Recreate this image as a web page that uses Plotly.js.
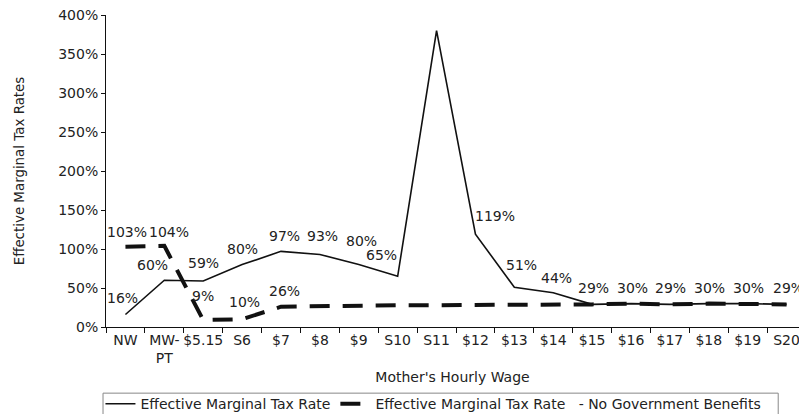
<!DOCTYPE html>
<html>
<head>
<meta charset="utf-8">
<script src="https://cdn.plot.ly/plotly-3.0.1.min.js"></script>
<style>html,body{margin:0;padding:0;background:#fff;overflow:hidden}</style>
</head>
<body>
<div id="chart" style="width:799px;height:414px"></div>
<script>
// ---- data ----
var wages = ["NW","MW-<br>PT","$5.15","S6","$7","$8","$9","S10","S11","$12","$13","$14","$15","$16","$17","$18","$19","S20"];
var emtr = [16, 60, 59, 80, 97, 93, 80, 65, 380, 119, 51, 44, 29, 30, 29, 30, 30, 29];
var emtrNoBenefits = [103, 104, 9, 10, 26, 27, 28, 28, 28, 28, 29, 29, 29, 30, 29, 30, 30, 29];
// which points carry a value label
var emtrLabeled = [true,true,true,true,true,true,true,true,false,true,true,true,true,true,true,true,true,true];
var noBenLabeled = [true,true,true,true,true,false,false,false,false,false,false,false,false,false,false,false,false,false];
var yTicks = [0, 50, 100, 150, 200, 250, 300, 350, 400];
var yTickText = yTicks.map(function(v){ return v + '%'; });
var seriesNames = ["Effective Marginal Tax Rate", "Effective Marginal Tax Rate\u00a0\u00a0\u00a0-\u00a0No Government Benefits"];

// label offsets (px), separate from data
var emtrShift = [[-3,17],[-12,15],[0,18],[0,16],[3,15],[3,18],[3,24],[-16,21],[0,0],[20,18],[7,22],[3,15],[1,16],[1,16],[1,16],[1,16],[1,16],[2,16]];
var noBenShift = [[2,15],[5,14],[0,24],[2,17],[3,16]];

var FONT = "DejaVu Sans, Arial, sans-serif";
var annotations = [];
wages.forEach(function(w, i){
  if (emtrLabeled[i]) annotations.push({x: w, y: emtr[i], xref:'x', yref:'y', text: emtr[i] + '%', showarrow:false,
    xshift: emtrShift[i][0], yshift: emtrShift[i][1], font:{family:FONT, size:14, color:'#222'}});
  if (noBenLabeled[i]) annotations.push({x: w, y: emtrNoBenefits[i], xref:'x', yref:'y', text: emtrNoBenefits[i] + '%', showarrow:false,
    xshift: noBenShift[i][0], yshift: noBenShift[i][1], font:{family:FONT, size:14, color:'#222'}});
});

var traces = [
  {x: wages, y: emtr, type:'scatter', mode:'lines', name: seriesNames[0],
   line:{color:'#111', width:1.6}},
  {x: wages, y: emtrNoBenefits, type:'scatter', mode:'lines', name: seriesNames[1],
   line:{color:'#111', width:4, dash:'20px,13px'}}
];

var layout = {
  width: 799, height: 414,
  margin: {l:106, r:0, t:15, b:87, pad:0, autoexpand:false},
  paper_bgcolor:'#fff', plot_bgcolor:'#fff',
  font: {family: FONT, size: 14, color:'#222'},
  hovermode: false,
  showlegend: true,
  legend: {orientation:'h', x:-0.008, xanchor:'left', y:-0.196, yanchor:'top',
    borderwidth:0, font:{family:FONT, size:14, color:'#222'},
    itemwidth:30, bgcolor:'rgba(0,0,0,0)'},
  shapes: [
    {type:'rect', xref:'paper', yref:'paper', x0:-0.0043, x1:0.97, y0:-0.212, y1:-0.32,
     line:{color:'#888', width:1}, fillcolor:'rgba(0,0,0,0)', layer:'above'}
  ],
  xaxis: {type:'category', range:[-0.5, 17.32], showline:true, linecolor:'#111', linewidth:1,
    ticks:'outside', tickson:'boundaries', ticklen:5, tickcolor:'#111', showgrid:false, zeroline:false,
    tickangle:0, automargin:false,
    tickfont:{family:FONT, size:14, color:'#222'},
    title:{text:"Mother's Hourly Wage", standoff:7, font:{family:FONT, size:14, color:'#222'}}},
  yaxis: {range:[0, 400], tickmode:'array', tickvals: yTicks, ticktext: yTickText, showline:true, linecolor:'#111', linewidth:1,
    ticks:'outside', ticklen:4, tickcolor:'#111', showgrid:false, zeroline:false, automargin:false,
    tickfont:{family:FONT, size:14, color:'#222'},
    title:{text:'Effective Marginal Tax Rates', standoff:30, font:{family:FONT, size:13.4, color:'#222'}}},
  annotations: annotations
};

Plotly.newPlot('chart', traces, layout, {displayModeBar:false, staticPlot:true});
</script>
</body>
</html>
